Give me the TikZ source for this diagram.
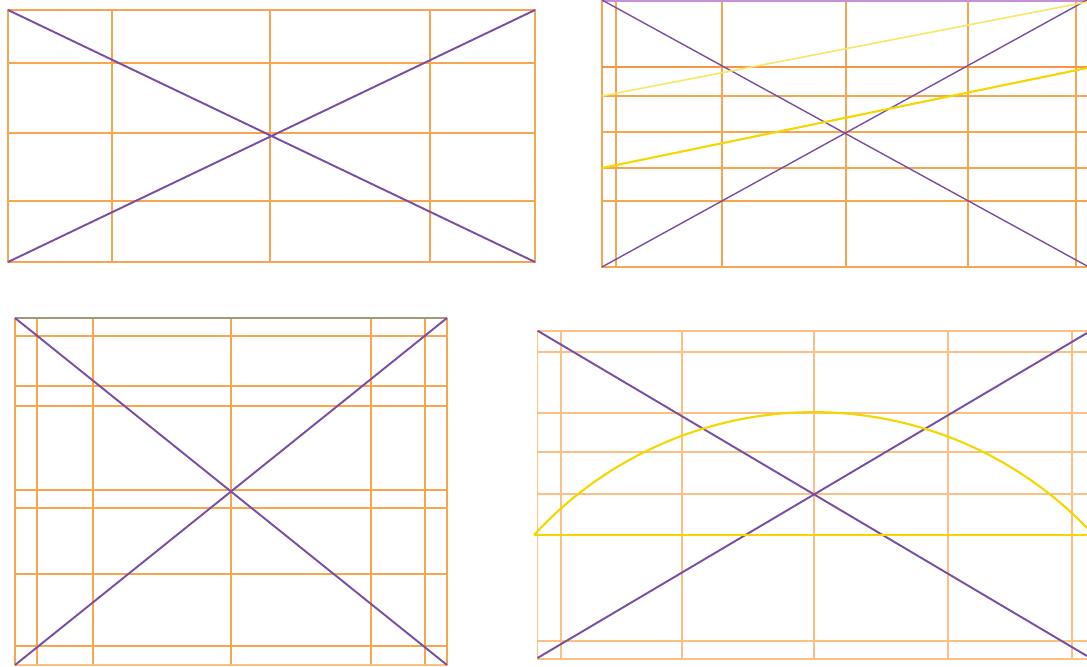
\documentclass[tikz,border=0pt]{standalone}
\begin{document}
\begin{tikzpicture}[x=0.01cm,y=-0.01cm,
  grid/.style={draw=gridorange,line width=0.45pt},
  gridthick/.style={draw=gridorange!90!red,line width=0.7pt},
  gridlight/.style={draw=gridorange!70!white,line width=0.5pt},
  diag/.style={draw=diagpurple,line width=0.55pt},
  diagthin/.style={draw=diagpurple,line width=0.4pt},
  ylwline/.style={draw=ylw,line width=0.6pt},
  ylwlight/.style={draw=ylw!60!white,line width=0.45pt}]
\definecolor{gridorange}{HTML}{F6A64E}
\definecolor{diagpurple}{HTML}{7A4FA3}
\definecolor{ylw}{HTML}{F4D600}
\definecolor{toplav}{HTML}{C78FD6}
\definecolor{topgray}{HTML}{A09878}
\useasboundingbox (0,0) rectangle (1087,667);
\clip (0,0) rectangle (1087,667);

% ---------- Panel 1 (top left) ----------
\draw[grid] (8,10) rectangle (535,262);
\foreach \x in {112,270,430} \draw[grid] (\x,10) -- (\x,262);
\foreach \y in {63,133,201} \draw[grid] (8,\y) -- (535,\y);
\draw[diag] (8,10) -- (535,262);
\draw[diag] (8,262) -- (535,10);

% ---------- Panel 2 (top right) ----------
\foreach \x in {602,616,722,846,968,1076} \draw[grid] (\x,0) -- (\x,268);
\draw[gridthick] (602,67) -- (1100,67);
\foreach \y in {96,132,168,201} \draw[grid] (602,\y) -- (1100,\y);
\draw[grid] (602,267) -- (1100,267);
\draw[draw=toplav,line width=0.6pt] (602,0.5) -- (1100,0.5);
\draw[diagthin] (602,0) -- (1087,266);
\draw[diagthin] (602,267) -- (1087,0);
\draw[ylwlight] (602,96) -- (1087,2);
\draw[ylwline] (602,168) -- (1087,68);

% ---------- Panel 3 (bottom left) ----------
\foreach \x in {15,37,93,231,371,425,447} \draw[grid] (\x,318) -- (\x,665);
\foreach \y in {336,386,406,490,508,574,646} \draw[grid] (15,\y) -- (447,\y);
\draw[gridlight] (15,665) -- (447,665);
\draw[draw=topgray,line width=0.8pt] (15,318) -- (447,318);
\draw[diag] (15,318) -- (447,665);
\draw[diag] (15,665) -- (447,318);

% ---------- Panel 4 (bottom right) ----------
\foreach \x in {537.5,561,682,814,948,1072} \draw[gridlight] (\x,330.7) -- (\x,660);
\foreach \y in {330.7,352,413,452,494,641,659} \draw[gridlight] (537.5,\y) -- (1100,\y);
\draw[diag] (537.5,330.7) -- (1087,656);
\draw[diag] (537.5,658) -- (1087,333);
\draw[ylwline] (534,535) -- (1100,535);
\draw[ylwline] (534,535) arc[start angle=222.6,end angle=317.4,radius=380.2];
\end{tikzpicture}
\end{document}
